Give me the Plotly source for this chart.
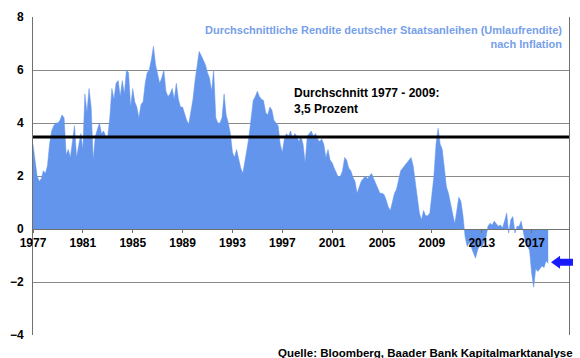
import plotly.graph_objects as go
import pandas as pd

# Bimonthly real yield values (Jan, Mar, May, Jul, Sep, Nov) per year
y1977 = [3.2, 2.5, 2.0, 1.8, 1.9, 2.2]
y1978 = [2.1, 2.4, 3.2, 3.7, 3.9, 4.0]
y1979 = [4.0, 4.1, 4.3, 4.2, 2.8, 3.0]
y1980 = [2.7, 3.3, 3.9, 2.7, 3.2, 3.6]
y1981 = [3.0, 5.1, 4.4, 5.3, 4.6, 2.6]
y1982 = [3.5, 3.8, 4.0, 3.6, 3.7, 3.5]
y1983 = [3.5, 4.2, 5.3, 4.9, 5.5, 5.6]
y1984 = [5.0, 5.6, 5.1, 6.0, 5.9, 4.6]
y1985 = [5.3, 4.8, 4.6, 4.2, 4.7, 4.8]
y1986 = [5.5, 5.9, 6.0, 6.4, 6.9, 6.2]
y1987 = [5.8, 5.5, 5.7, 6.0, 5.2, 5.0]
y1988 = [5.1, 5.3, 4.9, 5.5, 4.9, 4.6]
y1989 = [4.6, 4.3, 4.1, 3.95, 4.4, 4.9]
y1990 = [5.6, 6.2, 6.7, 6.55, 6.4, 6.2]
y1991 = [5.9, 5.7, 5.2, 6.0, 4.2, 4.0]
y1992 = [4.0, 4.2, 5.1, 4.3, 4.0, 3.6]
y1993 = [2.9, 2.7, 3.0, 2.6, 2.3, 2.1]
y1994 = [2.5, 3.0, 3.5, 4.1, 4.85, 5.0]
y1995 = [5.2, 5.0, 4.9, 4.85, 4.4, 4.3]
y1996 = [4.6, 4.5, 4.1, 4.0, 3.9, 3.2]
y1997 = [2.9, 3.4, 3.6, 3.5, 3.7, 3.4]
y1998 = [3.6, 3.5, 3.3, 3.5, 3.2, 2.5]
y1999 = [3.5, 3.6, 3.7, 3.5, 3.6, 3.4]
y2000 = [3.3, 3.4, 3.2, 2.7, 3.0, 2.6]
y2001 = [2.5, 2.3, 2.1, 1.95, 2.0, 2.2]
y2002 = [2.7, 2.6, 2.3, 2.2, 1.95, 1.8]
y2003 = [1.35, 1.6, 1.8, 1.9, 2.0, 1.9]
y2004 = [2.0, 2.1, 1.9, 1.7, 1.5, 1.35]
y2005 = [1.35, 1.3, 1.1, 0.84, 0.7, 1.0]
y2006 = [1.35, 1.5, 1.85, 2.2, 2.3, 2.4]
y2007 = [2.5, 2.6, 2.7, 2.4, 1.8, 1.3]
y2008 = [0.6, 0.34, 0.7, 0.5, 0.5, 0.6]
y2009 = [1.2, 2.0, 3.2, 3.8, 3.2, 3.0]
y2010 = [2.3, 1.6, 1.35, 1.0, 0.6, 0.2]
y2011 = [0.7, 1.2, 1.05, 0.5, -0.3, -0.66]
y2012 = [-0.5, -0.7, -0.9, -1.1, -0.8, -0.6]
y2013 = [-0.7, -0.5, -0.34, 0.1, 0.22, 0.15]
y2014 = [0.3, 0.2, 0.1, 0.15, 0.05, 0.3]
y2015 = [0.6, -0.15, 0.35, 0.47, -0.15, 0.1]
y2016 = [0.1, 0.3, -0.1, -0.5, -0.65, -0.8]
y2017 = [-1.66, -2.2, -1.5, -1.6, -1.5, -1.4]
y2018 = [-1.45, -1.2, -1.3]

values = (y1977 + y1978 + y1979 + y1980 + y1981 + y1982 + y1983 + y1984 + y1985
          + y1986 + y1987 + y1988 + y1989 + y1990 + y1991 + y1992 + y1993 + y1994
          + y1995 + y1996 + y1997 + y1998 + y1999 + y2000 + y2001 + y2002 + y2003
          + y2004 + y2005 + y2006 + y2007 + y2008 + y2009 + y2010 + y2011 + y2012
          + y2013 + y2014 + y2015 + y2016 + y2017 + y2018)
dates = pd.date_range("1977-01-01", periods=len(values), freq="2MS")

AVERAGE = 3.47
tick_years = ["1977", "1981", "1985", "1989", "1993", "1997", "2001", "2005",
              "2009", "2013", "2017"]
y_ticks = [-4, -2, 0, 2, 4, 6, 8]

TITLE = "Durchschnittliche Rendite deutscher Staatsanleihen (Umlaufrendite)<br>nach Inflation"
AVG_TEXT = "Durchschnitt 1977 - 2009:<br>3,5 Prozent"
SOURCE = "Quelle: Bloomberg, Baader Bank Kapitalmarktanalyse"

FONT = "Liberation Sans, Arial, sans-serif"
AREA = "#6495ED"

fig = go.Figure()
fig.add_trace(go.Scatter(
    x=dates, y=values, mode="lines", fill="tozeroy",
    fillcolor=AREA, line=dict(color=AREA, width=0.5), hoverinfo="skip",
    showlegend=False,
))

fig.update_layout(
    width=580, height=358,
    margin=dict(l=32, r=10, t=16, b=23),
    paper_bgcolor="white", plot_bgcolor="white",
    font=dict(family=FONT, size=12, color="black"),
    xaxis=dict(
        type="date", range=["1977-01-01", "2020-01-01"],
        tickvals=[y + "-01-01" for y in tick_years], ticktext=tick_years,
        showgrid=False, anchor="free", position=1/3,
        showline=True, linecolor="#707070", linewidth=1,
        ticks="outside", ticklen=3, tickcolor="#707070",
        tickfont=dict(family=FONT, size=12, weight="bold", color="black"),
        zeroline=False,
    ),
    yaxis=dict(
        range=[-4, 8], tickvals=y_ticks,
        showgrid=True, gridcolor="#8a8a8a", gridwidth=1,
        showline=True, linecolor="#707070", linewidth=1, mirror=True,
        ticks="", zeroline=False, ticklabelstandoff=6,
        tickfont=dict(family=FONT, size=12, weight="bold", color="black"),
    ),
    shapes=[
        dict(type="line", xref="paper", yref="y", x0=0, x1=1,
             y0=AVERAGE, y1=AVERAGE, line=dict(color="black", width=3)),
        dict(type="path", xref="paper", yref="paper", fillcolor="#1a1aff",
             line=dict(width=0),
             path="M 0.9665 0.2288 L 0.9833 0.2492 L 0.9833 0.2398 L 1.0074 0.2398 "
                  "L 1.0074 0.2179 L 0.9833 0.2179 L 0.9833 0.2085 Z"),
    ],
    annotations=[
        dict(text=TITLE, xref="paper", yref="paper", x=0.99, y=0.985,
             xanchor="right", yanchor="top", align="right", showarrow=False,
             font=dict(family=FONT, size=11, weight="bold", color="#779fea")),
        dict(text=AVG_TEXT, xref="paper", yref="paper", x=0.484, y=0.79,
             xanchor="left", yanchor="top", align="left", showarrow=False,
             font=dict(family=FONT, size=12, weight="bold", color="black")),
        dict(text=SOURCE, xref="paper", yref="paper", x=1.012, y=-0.03,
             xanchor="right", yanchor="top", align="right", showarrow=False,
             font=dict(family=FONT, size=11.5, weight="bold", color="black")),
    ],
)

fig.write_html(
    "out.html",
    config={"displayModeBar": False},
    post_script="document.body.style.margin='0';document.body.style.padding='0';",
)
